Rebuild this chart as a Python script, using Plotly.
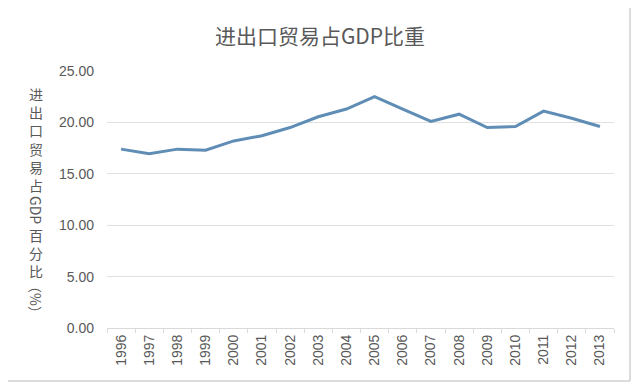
import plotly.graph_objects as go

years = [str(y) for y in range(1996, 2014)]
ratio = [17.4, 16.95, 17.4, 17.3, 18.2, 18.7, 19.5, 20.55, 21.3, 22.5,
         21.3, 20.1, 20.8, 19.5, 19.6, 21.1, 20.4, 19.6]
y_ticks = [0, 5, 10, 15, 20, 25]
y_tick_text = [f"{v:.2f}" for v in y_ticks]
title_text = "进出口贸易占GDP比重"
# y-axis title pieces: (text, rotated?)
y_title_parts = [("进出口贸易占", False), ("GDP", True), ("百分比", False), ("（%）", True)]

FONT = "Noto Sans CJK SC, Noto Sans, sans-serif"
TICKFONT = "Liberation Sans, Arial, sans-serif"
GRAY = "#595959"

# page is offset by the default 8px body margin
OFF = 8
W, H = 640 - OFF, 386 - OFF
# desired plot area in page pixels: x 107..614, y 71..328
L, R = 107 - OFF, 640 - 614
T, B = 71 - OFF, 386 - 328
pw, ph = W - L - R, H - T - B


def px_x(p):
    return (p - OFF - L) / pw


def px_y(p):
    return (H - B - (p - OFF)) / ph


fig = go.Figure()
fig.add_trace(go.Scatter(x=years, y=ratio, mode="lines",
                         line=dict(color="#5f8db5", width=3), showlegend=False))

# y-axis title: CJK characters stacked upright, Latin parts rotated (Excel stacked style)
centers = [139, 210, 253, 299]
annots = []
for (part, rotated), cy in zip(y_title_parts, centers):
    annots.append(dict(text=part if rotated else "<br>".join(part),
                       x=px_x(36), y=px_y(cy), xref="paper", yref="paper",
                       xanchor="center", yanchor="middle", showarrow=False,
                       textangle=90 if rotated else 0, borderpad=0,
                       font=dict(family=FONT, size=14, color=GRAY)))

fig.update_layout(
    width=W, height=H,
    margin=dict(l=L, r=R, t=T, b=B),
    paper_bgcolor="white", plot_bgcolor="white",
    title=dict(text=title_text, x=(320 - OFF) / W, xref="container", xanchor="center",
               y=1 - (37 - OFF) / H, yref="container", yanchor="middle",
               font=dict(family=FONT, size=21, color=GRAY)),
    font=dict(family=FONT, color=GRAY),
    annotations=annots,
    shapes=[dict(type="line", xref="paper", yref="paper",
                 x0=px_x(630), x1=px_x(630), y0=px_y(381), y1=px_y(OFF),
                 line=dict(color="#d0d0d0", width=1.5), layer="below"),
            dict(type="line", xref="paper", yref="paper",
                 x0=px_x(OFF), x1=px_x(630), y0=px_y(381), y1=px_y(381),
                 line=dict(color="#d0d0d0", width=1.5), layer="below")],
)
fig.update_xaxes(type="category", tickangle=-90, tickfont=dict(family=TICKFONT, size=14, color=GRAY),
                 showline=True, linecolor="#d9d9d9", linewidth=1,
                 ticks="outside", tickson="boundaries", ticklen=4, tickcolor="#d9d9d9",
                 showgrid=False, range=[-0.5, 17.5])
fig.update_yaxes(range=[0, 25], tickvals=y_ticks, ticktext=y_tick_text,
                 tickfont=dict(family=TICKFONT, size=14, color=GRAY), showgrid=True,
                 gridcolor="#e0e0e0", gridwidth=1, zeroline=False, showline=False,
                 ticklabelstandoff=12)

fig.write_html("out.html")
